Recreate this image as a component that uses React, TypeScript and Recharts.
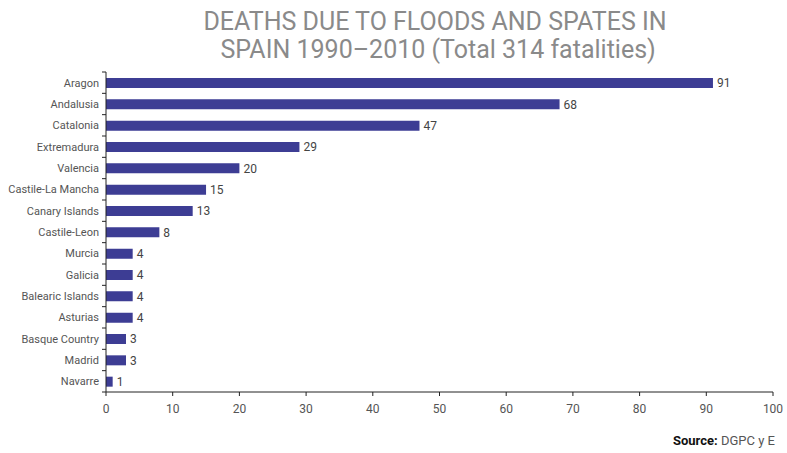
import React from "react"
import { BarChart, Bar, XAxis, YAxis, LabelList } from "recharts"

const regions = [
  "Aragon", "Andalusia", "Catalonia", "Extremadura", "Valencia", "Castile-La Mancha",
  "Canary Islands", "Castile-Leon", "Murcia", "Galicia", "Balearic Islands", "Asturias",
  "Basque Country", "Madrid", "Navarre",
]
const deaths = [91, 68, 47, 29, 20, 15, 13, 8, 4, 4, 4, 4, 3, 3, 1]
const xTicks = [0, 10, 20, 30, 40, 50, 60, 70, 80, 90, 100]

const data = regions.map((name, i) => ({ name, value: deaths[i] }))

const WIDTH = 787
const HEIGHT = 453
const PLOT_LEFT = 106
const PLOT_TOP = 72
const PLOT_BOTTOM = 392
const BAND = (PLOT_BOTTOM - PLOT_TOP) / regions.length
const FONT = "Roboto, 'DejaVu Sans', sans-serif"

// category label plus the small boundary ticks between the bars
const RegionTick = (props: any) => {
  const { x, y, payload, index } = props
  const top = y - BAND / 2
  const bottom = y + BAND / 2
  return (
    <g>
      <line x1={PLOT_LEFT - 4} x2={PLOT_LEFT} y1={top} y2={top} stroke="#222" />
      {index === regions.length - 1 && (
        <line x1={PLOT_LEFT - 4} x2={PLOT_LEFT} y1={bottom} y2={bottom} stroke="#222" />
      )}
      <text x={x} y={y} dy={4} textAnchor="end" fontSize={11} fill="#555" fontFamily={FONT}>
        {payload.value}
      </text>
    </g>
  )
}

export default function App() {
  return (
    <div style={{ position: "absolute", left: 0, top: 0, width: WIDTH, height: HEIGHT, background: "#fff", fontFamily: FONT }}>
      <div
        style={{
          position: "absolute", left: 135, top: 8, width: 600, textAlign: "center",
          fontSize: 25, lineHeight: "28px", color: "#8a8a8a", fontWeight: 400,
        }}
      >
        DEATHS DUE TO FLOODS AND SPATES IN
        <br />
        &nbsp;SPAIN 1990–2010 (Total 314 fatalities)
      </div>
      <BarChart
        layout="vertical"
        width={WIDTH}
        height={HEIGHT}
        data={data}
        margin={{ top: PLOT_TOP, right: WIDTH - 773, bottom: HEIGHT - PLOT_BOTTOM - 30, left: 0 }}
      >
        <XAxis
          type="number"
          domain={[0, 100]}
          ticks={xTicks}
          height={30}
          tickSize={4}
          tickMargin={8}
          stroke="#222"
          tick={{ fontSize: 12, fill: "#555", fontFamily: FONT }}
        />
        <YAxis
          type="category"
          dataKey="name"
          width={PLOT_LEFT}
          tickLine={false}
          tickSize={4}
          tickMargin={3}
          stroke="#222"
          interval={0}
          tick={<RegionTick />}
        />
        <Bar dataKey="value" fill="#3d3d94" barSize={10} isAnimationActive={false}>
          <LabelList dataKey="value" position="right" offset={4} fontSize={12} fill="#444" fontFamily={FONT} />
        </Bar>
      </BarChart>
      <div style={{ position: "absolute", right: 12, top: 433, fontSize: 13, color: "#555" }}>
        <span style={{ fontWeight: 700, color: "#111" }}>Source:</span> DGPC y E
      </div>
    </div>
  )
}
